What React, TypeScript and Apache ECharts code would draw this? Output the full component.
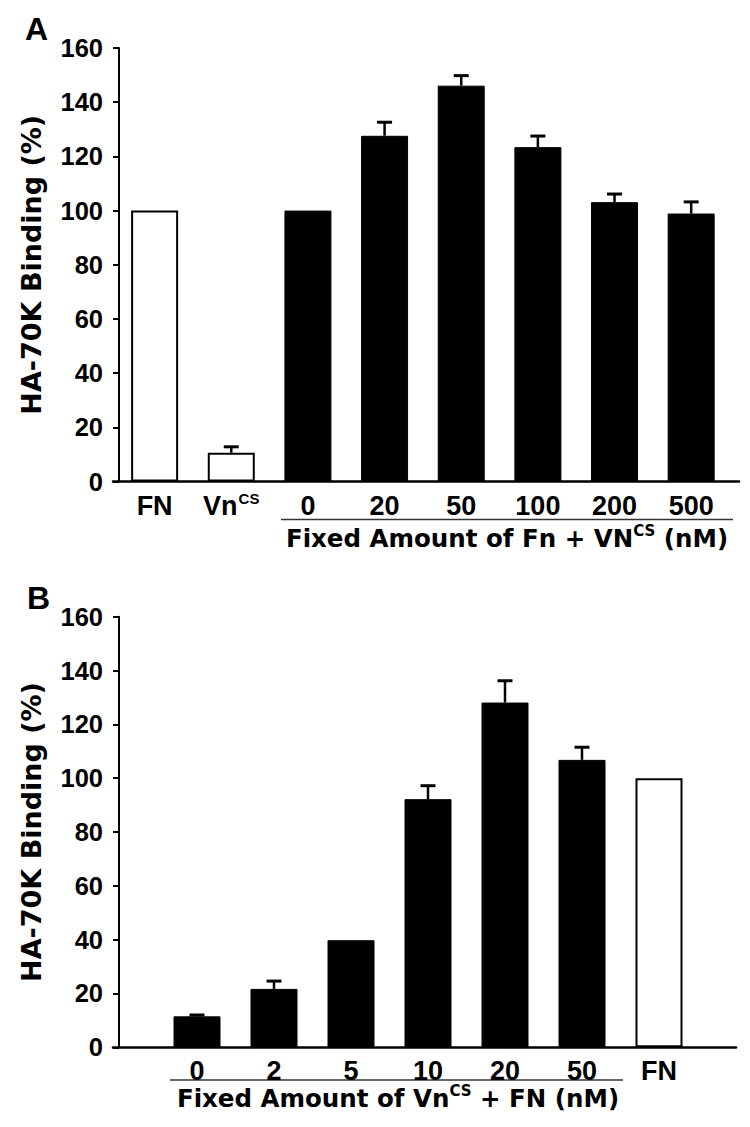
import React, { useEffect, useRef } from 'react';
import * as echarts from 'echarts';

// ---------- data ----------
const yMin = 0;
const yMax = 160;
const yStep = 20;

const panelACategories = ['FN', 'VnCS', '0', '20', '50', '100', '200', '500'];
const panelAOpen = [100, 10.6, null, null, null, null, null, null];
const panelAFilled = [null, null, 100, 127.6, 146.1, 123.4, 103.1, 98.9];
const panelAErr = [0, 2.2, 0, 5, 3.7, 4.1, 3, 4.3];

const panelBCategories = ['', '0', '2', '5', '10', '20', '50', 'FN', ''];
const panelBOpen = [null, null, null, null, null, null, null, 100, null];
const panelBFilled = [null, 11.5, 21.7, 39.8, 92.2, 128.1, 106.8, null, null];
const panelBErr = [0, 0.5, 2.9, 0, 5, 8.1, 4.7, 0, 0];

const yName = 'HA-70K Binding (%)';
const panelAXName = ['Fixed Amount of Fn + VN', 'CS', ' (nM)'];
const panelBXName = ['Fixed Amount of Vn', 'CS', ' + FN (nM)'];

// ---------- helpers ----------
const NUM_FONT = '"Liberation Sans", Arial, Helvetica, sans-serif';
const NAME_FONT = '"DejaVu Sans", "Liberation Sans", sans-serif';

const catRich = {
  w: { fontFamily: NUM_FONT, fontWeight: 'bold', fontSize: 27, color: '#000', lineHeight: 30 },
  s: { fontFamily: NUM_FONT, fontWeight: 'bold', fontSize: 15, color: '#000', lineHeight: 30, verticalAlign: 'top', padding: [0, 0, 0, 1] },
};
const catFormatter = (v: string) => {
  if (v === 'VnCS') return '{w|Vn}{s|CS}';
  if (v === '') return '';
  return `{w|${v}}`;
};

const nameRich = {
  w: { fontFamily: NAME_FONT, fontWeight: 'bold', fontSize: 24.5, color: '#000', lineHeight: 30 },
  s: { fontFamily: NAME_FONT, fontWeight: 'bold', fontSize: 15, color: '#000', lineHeight: 30, verticalAlign: 'top' },
};

const errData = (vals: (number | null)[][], errs: number[]) =>
  errs
    .map((e, i) => {
      const v = vals.map((arr) => arr[i]).find((x) => x !== null && x !== undefined);
      return e > 0 && v != null ? [i, v, e] : null;
    })
    .filter((d) => d !== null);

const renderErr = (_params: any, api: any) => {
  const i = api.value(0);
  const v = api.value(1);
  const e = api.value(2);
  const base = api.coord([i, v]);
  const top = api.coord([i, v + e]);
  return {
    type: 'group',
    children: [
      { type: 'line', shape: { x1: base[0], y1: base[1], x2: base[0], y2: top[1] }, style: { stroke: '#000', lineWidth: 2.5 } },
      { type: 'line', shape: { x1: base[0] - 7.5, y1: top[1], x2: base[0] + 7.5, y2: top[1] }, style: { stroke: '#000', lineWidth: 3 } },
    ],
  };
};

const hiddenValueY = (gridIndex: number) => ({
  gridIndex, type: 'value', min: yMin, max: yMax, interval: yStep, show: false,
});

const shownY = (gridIndex: number) => ({
  gridIndex,
  type: 'value',
  min: yMin,
  max: yMax,
  interval: yStep,
  offset: -6,
  axisLine: { show: true, onZero: false, lineStyle: { color: '#000', width: 2 } },
  axisTick: { show: true, length: 6, lineStyle: { color: '#000', width: 2 } },
  axisLabel: { fontFamily: NUM_FONT, fontWeight: 'bold', fontSize: 25.5, color: '#000', margin: 16 },
  splitLine: { show: false },
  name: yName,
  nameLocation: 'middle',
  nameGap: 74,
  nameTextStyle: { fontFamily: NAME_FONT, fontWeight: 'bold', fontSize: 27, color: '#000' },
});

const lineX = (gridIndex: number) => ({
  gridIndex, type: 'value', min: 0, max: 1,
  axisLine: { show: true, onZero: false, lineStyle: { color: '#000', width: 2.5 } },
  axisTick: { show: false }, axisLabel: { show: false }, splitLine: { show: false },
});

const catX = (gridIndex: number, data: string[], boundaryGap: boolean) => ({
  gridIndex, type: 'category', data, boundaryGap,
  axisLine: { show: false }, axisTick: { show: false },
  axisLabel: { interval: 0, margin: 9, formatter: catFormatter, rich: catRich },
});

const barPair = (axisIndex: number, open: (number | null)[], filled: (number | null)[]) => [
  {
    type: 'bar', xAxisIndex: axisIndex, yAxisIndex: axisIndex, data: open, barWidth: 47, barGap: '-100%',
    itemStyle: { color: '#fff', borderColor: '#000', borderWidth: 2 },
  },
  {
    type: 'bar', xAxisIndex: axisIndex, yAxisIndex: axisIndex, data: filled, barWidth: 47, barGap: '-100%',
    itemStyle: { color: '#000', borderColor: '#000', borderWidth: 1 },
  },
];

export default function App() {
  const ref = useRef<HTMLDivElement>(null);
  useEffect(() => {
    if (!ref.current) return;
    const chart = echarts.init(ref.current, undefined, { renderer: 'svg' });
    const option: any = {
      animation: false,
      backgroundColor: '#fff',
      grid: [
        { left: 116.3, top: 48, width: 613.2, height: 433.5 },
        { left: 113, top: 48, width: 626, height: 433.5 },
        { left: 120, top: 616.7, width: 616, height: 430.6 },
        { left: 113, top: 616.7, width: 623, height: 430.6 },
      ],
      xAxis: [
        catX(0, panelACategories, true),
        lineX(1),
        catX(2, panelBCategories, false),
        lineX(3),
      ],
      yAxis: [hiddenValueY(0), shownY(1), hiddenValueY(2), shownY(3)],
      series: [
        ...barPair(0, panelAOpen, panelAFilled),
        {
          type: 'custom', xAxisIndex: 0, yAxisIndex: 0, renderItem: renderErr,
          data: errData([panelAOpen, panelAFilled], panelAErr), z: 3,
        },
        ...barPair(2, panelBOpen, panelBFilled),
        {
          type: 'custom', xAxisIndex: 2, yAxisIndex: 2, renderItem: renderErr,
          data: errData([panelBOpen, panelBFilled], panelBErr), z: 3,
        },
      ],
      graphic: [
        { type: 'text', x: 25, y: 29, style: { text: 'A', fontFamily: NUM_FONT, fontWeight: 'bold', fontSize: 32, fill: '#000', align: 'left', verticalAlign: 'middle' } },
        { type: 'text', x: 27, y: 598, style: { text: 'B', fontFamily: NUM_FONT, fontWeight: 'bold', fontSize: 32, fill: '#000', align: 'left', verticalAlign: 'middle' } },
        { type: 'line', shape: { x1: 281, y1: 519.5, x2: 733, y2: 519.5 }, style: { stroke: '#333', lineWidth: 1.5 } },
        { type: 'line', shape: { x1: 170, y1: 1080, x2: 623, y2: 1080 }, style: { stroke: '#333', lineWidth: 1.5 } },
        {
          type: 'text', x: 507, y: 538,
          style: { text: `{w|${panelAXName[0]}}{s|${panelAXName[1]}}{w|${panelAXName[2]}}`, rich: nameRich, align: 'center', verticalAlign: 'middle' },
        },
        {
          type: 'text', x: 398, y: 1098,
          style: { text: `{w|${panelBXName[0]}}{s|${panelBXName[1]}}{w|${panelBXName[2]}}`, rich: nameRich, align: 'center', verticalAlign: 'middle' },
        },
      ],
    };
    chart.setOption(option);
    return () => chart.dispose();
  }, []);
  return <div ref={ref} style={{ position: 'absolute', left: 0, top: 0, width: 750, height: 1127 }} />;
}
